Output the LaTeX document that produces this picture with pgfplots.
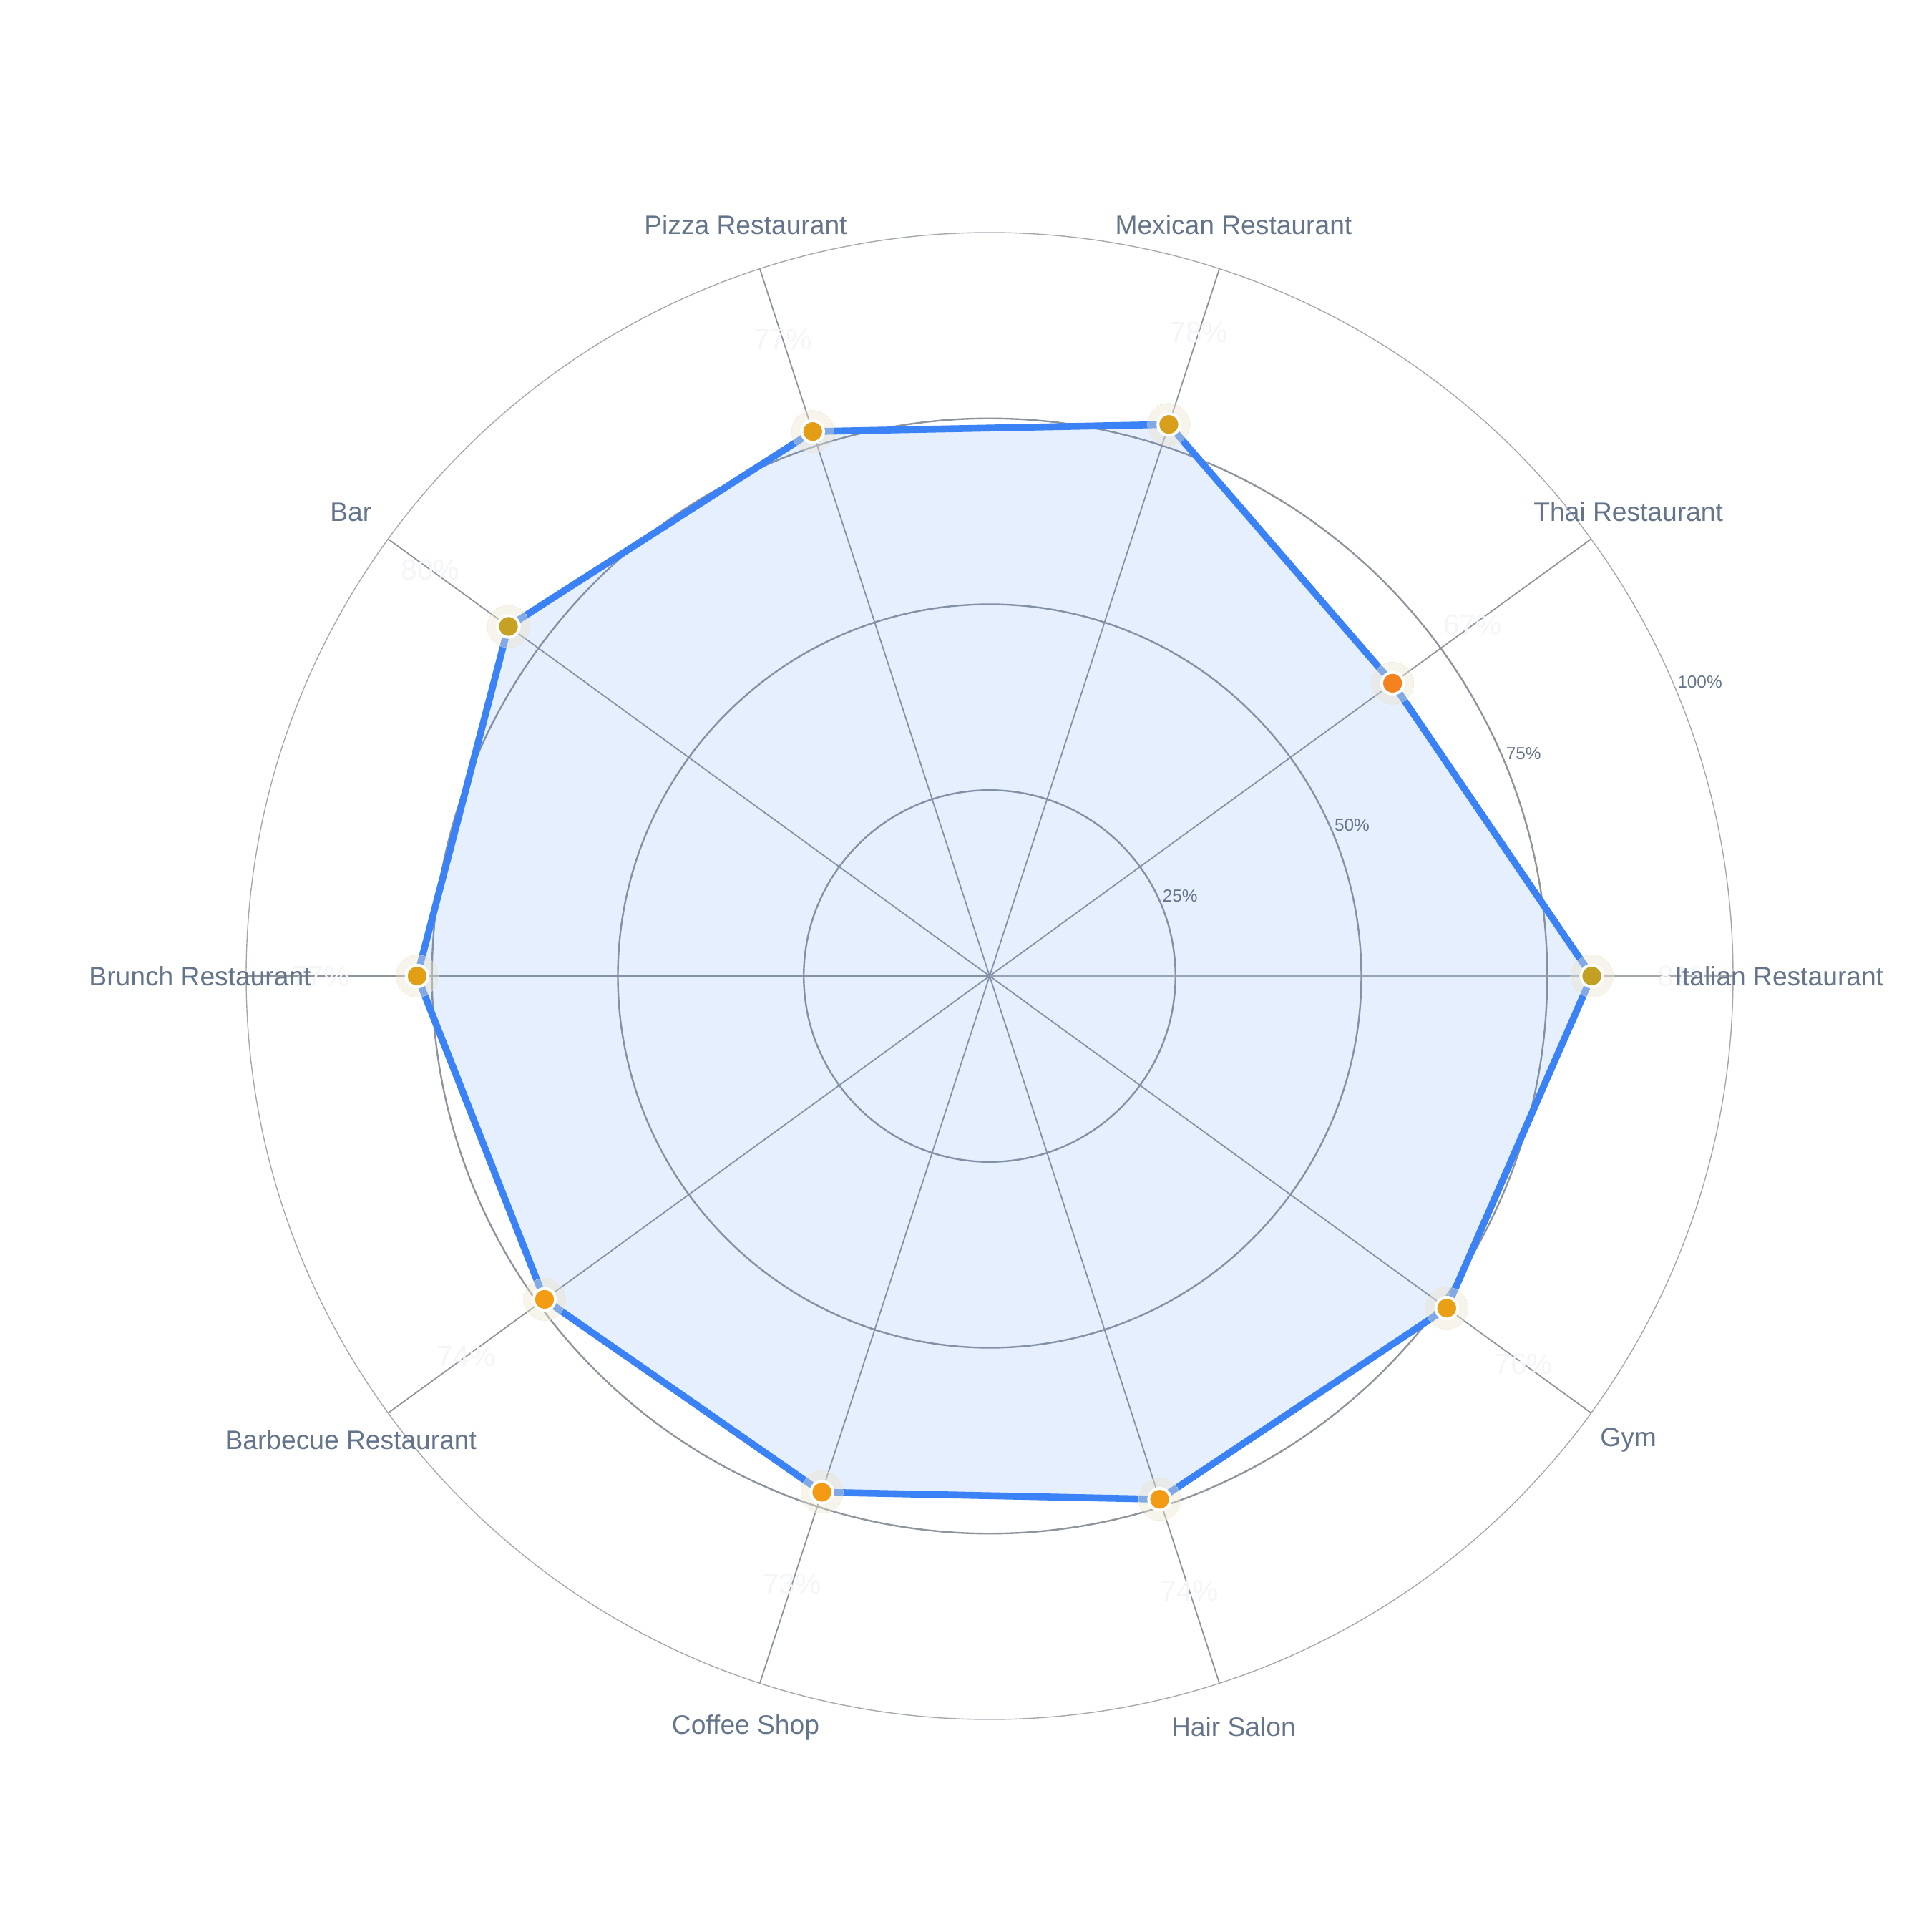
\documentclass[border=0pt]{standalone}
\usepackage{fontspec}
\setmainfont{Liberation Sans}
\usepackage{pgfplots}
\pgfplotsset{compat=1.18}
\usepgfplotslibrary{polar}
\definecolor{lineblue}{HTML}{3B82F6}
\definecolor{slate}{HTML}{64748B}
\definecolor{gridgray}{HTML}{8E949C}
\definecolor{outergray}{HTML}{A3A8AF}
\definecolor{halo}{RGB}{235,228,204}
\definecolor{valtxt}{HTML}{F4F5F8}
\definecolor{cItalian}{HTML}{C3A024}
\definecolor{cThai}{HTML}{F5821F}
\definecolor{cMexican}{HTML}{D89F1C}
\definecolor{cPizza}{HTML}{E49E16}
\definecolor{cBar}{HTML}{C5A223}
\definecolor{cBrunch}{HTML}{E29F15}
\definecolor{cBbq}{HTML}{F39B12}
\definecolor{cCoffee}{HTML}{F49A12}
\definecolor{cHair}{HTML}{F39B12}
\definecolor{cGym}{HTML}{EAA014}
\begin{document}
\begin{tikzpicture}
\path[use as bounding box] (0,0) rectangle (675pt,675pt);
\begin{polaraxis}[
  at={(345.75pt,334pt)}, anchor=origin,
  width=519.5pt, height=519.5pt, scale only axis,
  ymin=0, ymax=100, xmin=0, xmax=360,
  xtick={0,36,72,108,144,180,216,252,288,324},
  ytick={25,50,75},
  xticklabels={}, yticklabels={},
  major tick length=0pt,
  grid=major,
  x grid style={gridgray, line width=0.45pt},
  y grid style={gridgray, line width=0.6pt},
  axis line style={outergray, line width=0.35pt},
  clip=false,
]
% area
\addplot[draw=none, fill=lineblue, fill opacity=0.13] coordinates {
  (0,81) (36,67) (72,78) (108,77) (144,80) (180,77) (216,74) (252,73) (288,74) (324,76)
} -- cycle;
% line
\addplot[lineblue, line width=2.4pt, line join=round] coordinates {
  (0,81) (36,67) (72,78) (108,77) (144,80) (180,77) (216,74) (252,73) (288,74) (324,76)
} -- cycle;
% halos
\addplot[color=halo, only marks, mark=*, mark size=7.4pt, mark options={draw=halo, fill=halo, line width=0pt, opacity=0.4}] coordinates {
  (0,81) (36,67) (72,78) (108,77) (144,80) (180,77) (216,74) (252,73) (288,74) (324,76)
};
% markers
\addplot[color=white, only marks, mark=*, mark size=3.8pt, mark options={fill=cItalian, draw=white, line width=1pt}] coordinates {(0,81)};
\addplot[color=white, only marks, mark=*, mark size=3.8pt, mark options={fill=cThai, draw=white, line width=1pt}] coordinates {(36,67)};
\addplot[color=white, only marks, mark=*, mark size=3.8pt, mark options={fill=cMexican, draw=white, line width=1pt}] coordinates {(72,78)};
\addplot[color=white, only marks, mark=*, mark size=3.8pt, mark options={fill=cPizza, draw=white, line width=1pt}] coordinates {(108,77)};
\addplot[color=white, only marks, mark=*, mark size=3.8pt, mark options={fill=cBar, draw=white, line width=1pt}] coordinates {(144,80)};
\addplot[color=white, only marks, mark=*, mark size=3.8pt, mark options={fill=cBrunch, draw=white, line width=1pt}] coordinates {(180,77)};
\addplot[color=white, only marks, mark=*, mark size=3.8pt, mark options={fill=cBbq, draw=white, line width=1pt}] coordinates {(216,74)};
\addplot[color=white, only marks, mark=*, mark size=3.8pt, mark options={fill=cCoffee, draw=white, line width=1pt}] coordinates {(252,73)};
\addplot[color=white, only marks, mark=*, mark size=3.8pt, mark options={fill=cHair, draw=white, line width=1pt}] coordinates {(288,74)};
\addplot[color=white, only marks, mark=*, mark size=3.8pt, mark options={fill=cGym, draw=white, line width=1pt}] coordinates {(324,76)};
% value labels (faint)
\begin{scope}[every node/.style={text=valtxt, font=\fontsize{10.2}{12}\selectfont, inner sep=0pt, anchor=center}]
\node at (axis cs:0,93.8) {81\%};
\node at (axis cs:36,80.3) {67\%};
\node at (axis cs:72,91) {78\%};
\node at (axis cs:108,90) {77\%};
\node at (axis cs:144,93) {80\%};
\node at (axis cs:180,90) {77\%};
\node at (axis cs:216,87) {74\%};
\node at (axis cs:252,86) {73\%};
\node at (axis cs:288,87) {74\%};
\node at (axis cs:324,88.8) {76\%};
\end{scope}
% category labels
\begin{scope}[every node/.style={text=slate, font=\fontsize{9.3}{11}\selectfont, inner sep=0pt, anchor=center}]
\node at (axis cs:0,106.2) {Italian Restaurant};
\node at (axis cs:36,106.2) {Thai Restaurant};
\node at (axis cs:72,106.2) {Mexican Restaurant};
\node at (axis cs:108,106.2) {Pizza Restaurant};
\node at (axis cs:144,106.2) {Bar};
\node at (axis cs:180,106.2) {Brunch Restaurant};
\node at (axis cs:216,106.2) {Barbecue Restaurant};
\node at (axis cs:252,106.2) {Coffee Shop};
\node at (axis cs:288,106.2) {Hair Salon};
\node at (axis cs:324,106.2) {Gym};
\end{scope}
% radial tick labels
\begin{scope}[every node/.style={text=slate, font=\fontsize{6.1}{7}\selectfont, inner sep=0pt, anchor=center}]
\node at (axis cs:22.8,27.8) {25\%};
\node at (axis cs:22.6,52.8) {50\%};
\node at (axis cs:22.6,77.8) {75\%};
\node at (axis cs:22.5,103.4) {100\%};
\end{scope}
\end{polaraxis}
\end{tikzpicture}
\end{document}
